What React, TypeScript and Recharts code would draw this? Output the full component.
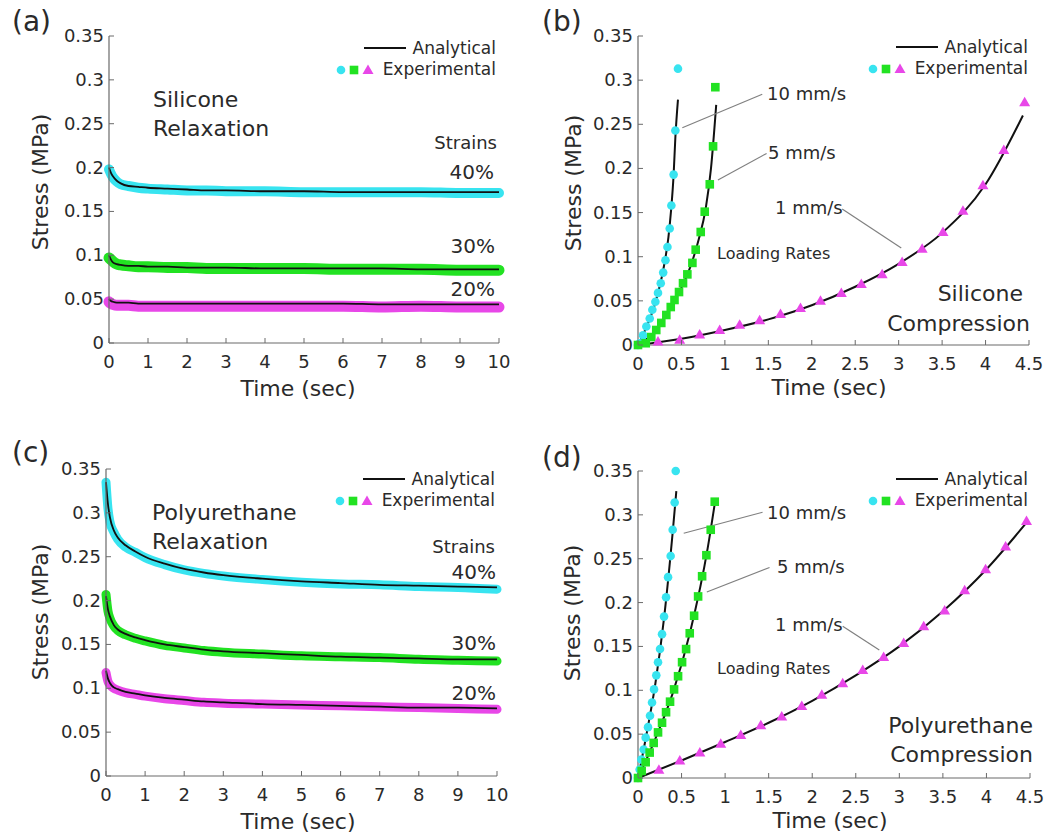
import React from 'react'
import { ComposedChart, Line, Scatter, XAxis, YAxis, ReferenceLine } from 'recharts'

const CYAN = '#38e4f0'
const GREEN = '#22e222'
const MAGENTA = '#e847e8'
const AXIS = '#6a6a6a'
const TXT = '#2a2a2a'
const FONT = '"DejaVu Sans", Verdana, sans-serif'

// shared ticks
const stressTicks = [0, 0.05, 0.1, 0.15, 0.2, 0.25, 0.3, 0.35]
const relaxTicks = [0, 1, 2, 3, 4, 5, 6, 7, 8, 9, 10]
const compTicks = [0, 0.5, 1, 1.5, 2, 2.5, 3, 3.5, 4, 4.5]

// relaxation sample times (sec)
const relaxTime = [0, 0.05, 0.1, 0.2, 0.3, 0.5, 0.75, 1, 1.5, 2, 2.5, 3, 4, 5, 6, 7, 8, 9, 10]

// (a) silicone relaxation, stress (MPa)
const silExp40 = [0.198, 0.193, 0.189, 0.184, 0.181, 0.179, 0.177, 0.176, 0.175, 0.174, 0.174, 0.173, 0.173, 0.172, 0.172, 0.172, 0.172, 0.171, 0.171]
const silAna40 = [0.2, 0.194, 0.19, 0.185, 0.182, 0.179, 0.178, 0.177, 0.176, 0.175, 0.174, 0.174, 0.173, 0.173, 0.172, 0.172, 0.172, 0.172, 0.172]
const silExp30 = [0.097, 0.095, 0.093, 0.09, 0.089, 0.088, 0.087, 0.087, 0.086, 0.086, 0.085, 0.085, 0.085, 0.085, 0.084, 0.084, 0.084, 0.083, 0.083]
const silAna30 = [0.1, 0.095, 0.092, 0.09, 0.089, 0.088, 0.088, 0.087, 0.087, 0.086, 0.086, 0.086, 0.085, 0.085, 0.085, 0.085, 0.084, 0.084, 0.084]
const silExp20 = [0.047, 0.045, 0.044, 0.043, 0.043, 0.043, 0.042, 0.042, 0.042, 0.042, 0.042, 0.042, 0.042, 0.042, 0.042, 0.041, 0.042, 0.041, 0.041]
const silAna20 = [0.05, 0.048, 0.047, 0.046, 0.046, 0.046, 0.045, 0.045, 0.045, 0.045, 0.045, 0.045, 0.045, 0.045, 0.045, 0.044, 0.044, 0.044, 0.044]

// (c) polyurethane relaxation
const puExp40 = [0.335, 0.305, 0.29, 0.278, 0.27, 0.261, 0.255, 0.249, 0.241, 0.235, 0.231, 0.228, 0.224, 0.221, 0.219, 0.218, 0.216, 0.215, 0.213]
const puAna40 = [0.335, 0.31, 0.295, 0.28, 0.272, 0.263, 0.256, 0.25, 0.242, 0.236, 0.232, 0.229, 0.225, 0.222, 0.22, 0.218, 0.217, 0.216, 0.215]
const puExp30 = [0.207, 0.188, 0.18, 0.171, 0.166, 0.161, 0.157, 0.154, 0.149, 0.146, 0.143, 0.141, 0.139, 0.137, 0.136, 0.135, 0.133, 0.132, 0.131]
const puAna30 = [0.205, 0.19, 0.182, 0.172, 0.167, 0.162, 0.158, 0.155, 0.15, 0.147, 0.144, 0.142, 0.14, 0.138, 0.136, 0.135, 0.134, 0.133, 0.133]
const puExp20 = [0.118, 0.108, 0.104, 0.1, 0.098, 0.095, 0.093, 0.091, 0.088, 0.086, 0.084, 0.083, 0.082, 0.081, 0.08, 0.079, 0.078, 0.077, 0.076]
const puAna20 = [0.12, 0.111, 0.106, 0.101, 0.099, 0.096, 0.094, 0.092, 0.089, 0.087, 0.085, 0.084, 0.082, 0.081, 0.08, 0.079, 0.078, 0.078, 0.077]

// (b) silicone compression
const silT10 = [0, 0.02, 0.058, 0.096, 0.135, 0.165, 0.2, 0.23, 0.262, 0.29, 0.316, 0.339, 0.365, 0.384, 0.41, 0.43, 0.46]
const silS10 = [0, 0.002, 0.011, 0.021, 0.03, 0.04, 0.049, 0.059, 0.07, 0.082, 0.096, 0.111, 0.132, 0.158, 0.193, 0.243, 0.313]
const silAnaT10 = [0, 0.1, 0.2, 0.3, 0.35, 0.38, 0.41, 0.43, 0.46]
const silAnaS10 = [0, 0.021, 0.048, 0.09, 0.122, 0.152, 0.193, 0.235, 0.278]
const silT5 = [0, 0.089, 0.153, 0.21, 0.268, 0.326, 0.377, 0.42, 0.472, 0.518, 0.568, 0.626, 0.664, 0.722, 0.768, 0.826, 0.864, 0.89]
const silS5 = [0, 0.002, 0.009, 0.017, 0.025, 0.034, 0.043, 0.051, 0.06, 0.07, 0.08, 0.093, 0.108, 0.128, 0.151, 0.182, 0.225, 0.292]
const silAnaT5 = [0, 0.2, 0.4, 0.5, 0.6, 0.7, 0.78, 0.84, 0.9]
const silAnaS5 = [0, 0.016, 0.047, 0.065, 0.088, 0.12, 0.155, 0.2, 0.272]
const silT1 = [0.23, 0.48, 0.71, 0.94, 1.17, 1.4, 1.64, 1.87, 2.1, 2.34, 2.57, 2.81, 3.04, 3.27, 3.51, 3.74, 3.97, 4.21, 4.45]
const silS1 = [0.004, 0.006, 0.012, 0.017, 0.023, 0.028, 0.035, 0.042, 0.05, 0.059, 0.069, 0.08, 0.094, 0.109, 0.128, 0.152, 0.181, 0.221, 0.275]
const silAnaT1 = [0, 0.5, 1, 1.5, 2, 2.5, 3, 3.5, 4, 4.43]
const silAnaS1 = [0, 0.007, 0.017, 0.029, 0.045, 0.066, 0.092, 0.127, 0.182, 0.26]

// (d) polyurethane compression
const puT10 = [0, 0.019, 0.038, 0.065, 0.088, 0.115, 0.138, 0.161, 0.184, 0.21, 0.23, 0.253, 0.276, 0.299, 0.322, 0.345, 0.375, 0.398, 0.421, 0.433]
const puS10 = [0, 0.0096, 0.021, 0.0325, 0.046, 0.058, 0.071, 0.086, 0.101, 0.117, 0.132, 0.147, 0.164, 0.184, 0.206, 0.229, 0.253, 0.283, 0.314, 0.35]
const puAnaT10 = [0, 0.1, 0.2, 0.3, 0.4, 0.44]
const puAnaS10 = [0, 0.051, 0.108, 0.183, 0.282, 0.327]
const puT5 = [0, 0.042, 0.088, 0.134, 0.18, 0.23, 0.276, 0.322, 0.368, 0.414, 0.46, 0.506, 0.552, 0.594, 0.644, 0.69, 0.736, 0.785, 0.835, 0.881]
const puS5 = [0, 0.008, 0.018, 0.029, 0.04, 0.052, 0.063, 0.075, 0.087, 0.101, 0.116, 0.132, 0.147, 0.165, 0.185, 0.207, 0.23, 0.254, 0.283, 0.315]
const puAnaT5 = [0, 0.2, 0.4, 0.6, 0.8, 0.88]
const puAnaS5 = [0, 0.045, 0.097, 0.167, 0.262, 0.312]
const puT1 = [0.24, 0.48, 0.71, 0.95, 1.18, 1.41, 1.65, 1.88, 2.11, 2.35, 2.58, 2.82, 3.05, 3.28, 3.52, 3.75, 3.99, 4.22, 4.46]
const puS1 = [0.0095, 0.02, 0.029, 0.039, 0.049, 0.06, 0.07, 0.082, 0.095, 0.108, 0.123, 0.138, 0.154, 0.173, 0.191, 0.214, 0.238, 0.264, 0.293]
const puAnaT1 = [0, 0.5, 1, 1.5, 2, 2.5, 3, 3.5, 4, 4.45]
const puAnaS1 = [0, 0.02, 0.041, 0.063, 0.088, 0.117, 0.15, 0.19, 0.238, 0.29]

const pts = (ts: number[], ss: number[]) => ts.map((t, i) => ({ t, s: ss[i] }))

// ticks point inward (matlab style), labels outside
const XTick = (p: any) => (
  <g>
    <line x1={p.x} x2={p.x} y1={p.y} y2={p.y - 5} stroke={AXIS} />
    <text x={p.x} y={p.y + 25} textAnchor="middle" fontSize={18} fill={TXT} fontFamily={FONT}>
      {p.payload.value}
    </text>
  </g>
)

const YTick = (p: any) => (
  <g>
    <line x1={p.x} x2={p.x + 5} y1={p.y} y2={p.y} stroke={AXIS} />
    <text x={p.x - 5} y={p.y + 6} textAnchor="end" fontSize={18} fill={TXT} fontFamily={FONT}>
      {p.payload.value}
    </text>
  </g>
)

const Dot = (p: any) => <circle cx={p.cx} cy={p.cy} r={4.3} fill={CYAN} />
const Sq = (p: any) => <rect x={p.cx - 4.3} y={p.cy - 4.3} width={8.6} height={8.6} fill={GREEN} />
const Tri = (p: any) => (
  <polygon points={`${p.cx},${p.cy - 5.5} ${p.cx + 5.5},${p.cy + 4} ${p.cx - 5.5},${p.cy + 4}`} fill={MAGENTA} />
)

function Panel({ left, top, margin, xMax, xTicks, children }: any) {
  return (
    <div style={{ position: 'absolute', left, top }}>
      <ComposedChart width={530} height={418} margin={margin}>
        <XAxis
          type="number"
          dataKey="t"
          domain={[0, xMax]}
          ticks={xTicks}
          interval={0}
          height={1}
          tickSize={0}
          tickMargin={0}
          tickLine={false}
          axisLine={{ stroke: AXIS, strokeWidth: 1.2 }}
          tick={(p: any) => <XTick {...p} />}
        />
        <YAxis
          type="number"
          dataKey="s"
          domain={[0, 0.35]}
          ticks={stressTicks}
          interval={0}
          width={1}
          tickSize={0}
          tickMargin={0}
          tickLine={false}
          axisLine={{ stroke: AXIS, strokeWidth: 1.2 }}
          tick={(p: any) => <YTick {...p} />}
        />
        {children}
      </ComposedChart>
    </div>
  )
}

const band = (ys: number[], color: string, w: number) => (
  <Line data={pts(relaxTime, ys)} dataKey="s" type="monotone" stroke={color} strokeWidth={w} strokeLinecap="round" dot={false} isAnimationActive={false} />
)
const ana = (ts: number[], ys: number[], w = 1.8) => (
  <Line data={pts(ts, ys)} dataKey="s" type="monotone" stroke="#111" strokeWidth={w} dot={false} isAnimationActive={false} />
)
const marks = (ts: number[], ys: number[], shape: any) => (
  <Scatter data={pts(ts, ys)} shape={shape} isAnimationActive={false} />
)
const leader = (x1: number, y1: number, x2: number, y2: number) => (
  <ReferenceLine segment={[{ x: x1, y: y1 }, { x: x2, y: y2 }]} stroke="#808080" strokeWidth={1.2} />
)

const Txt = ({ x, y, size = 18, anchor = 'start', children }: any) => (
  <text x={x} y={y} fontSize={size} textAnchor={anchor} fill={TXT} fontFamily={FONT}>
    {children}
  </text>
)

function Legend({ right, y }: any) {
  return (
    <g>
      <line x1={right - 132} x2={right - 90} y1={y - 6} y2={y - 6} stroke="#111" strokeWidth={2.2} />
      <Txt x={right} y={y} size={17} anchor="end">Analytical</Txt>
      <Dot cx={right - 155} cy={y + 16} />
      <Sq cx={right - 142} cy={y + 16} />
      <Tri cx={right - 128} cy={y + 16} />
      <Txt x={right} y={y + 21} size={17} anchor="end">Experimental</Txt>
    </g>
  )
}

const YLabel = ({ x, y }: any) => (
  <text x={x} y={y} transform={`rotate(-90 ${x} ${y})`} fontSize={22} textAnchor="middle" dominantBaseline="central" fill={TXT} fontFamily={FONT}>
    Stress (MPa)
  </text>
)

export default function App() {
  return (
    <div style={{ position: 'absolute', left: 0, top: 0, width: 1060, height: 836, background: '#fff' }}>
      <Panel left={0} top={0} margin={{ top: 36, left: 108, right: 31, bottom: 74 }} xMax={10} xTicks={relaxTicks}>
        {band(silExp40, CYAN, 10)}
        {band(silExp30, GREEN, 11)}
        {band(silExp20, MAGENTA, 11)}
        {ana(relaxTime, silAna40)}
        {ana(relaxTime, silAna30)}
        {ana(relaxTime, silAna20)}
      </Panel>
      <Panel left={530} top={0} margin={{ top: 36, left: 107, right: 31, bottom: 72 }} xMax={4.5} xTicks={compTicks}>
        {marks(silT10, silS10, Dot)}
        {marks(silT5, silS5, Sq)}
        {marks(silT1, silS1, Tri)}
        {ana(silAnaT10, silAnaS10, 2)}
        {ana(silAnaT5, silAnaS5, 2)}
        {ana(silAnaT1, silAnaS1, 2)}
        {leader(0.51, 0.246, 1.43, 0.284)}
        {leader(0.92, 0.187, 1.48, 0.217)}
        {leader(2.35, 0.154, 3.03, 0.11)}
      </Panel>
      <Panel left={0} top={418} margin={{ top: 51, left: 105, right: 33, bottom: 59 }} xMax={10} xTicks={relaxTicks}>
        {band(puExp40, CYAN, 9)}
        {band(puExp30, GREEN, 9)}
        {band(puExp20, MAGENTA, 9)}
        {ana(relaxTime, puAna40)}
        {ana(relaxTime, puAna30)}
        {ana(relaxTime, puAna20)}
      </Panel>
      <Panel left={530} top={418} margin={{ top: 53, left: 107, right: 30, bottom: 57 }} xMax={4.5} xTicks={compTicks}>
        {marks(puT10, puS10, Dot)}
        {marks(puT5, puS5, Sq)}
        {marks(puT1, puS1, Tri)}
        {ana(puAnaT10, puAnaS10, 2)}
        {ana(puAnaT5, puAnaS5, 2)}
        {ana(puAnaT1, puAnaS1, 2)}
        {leader(0.525, 0.279, 1.43, 0.303)}
        {leader(0.79, 0.212, 1.51, 0.24)}
        {leader(2.35, 0.173, 2.77, 0.146)}
      </Panel>

      <svg width={1060} height={836} style={{ position: 'absolute', left: 0, top: 0, pointerEvents: 'none' }}>
        {/* panel letters */}
        <Txt x={12} y={31} size={28}>(a)</Txt>
        <Txt x={542} y={31} size={28}>(b)</Txt>
        <Txt x={12} y={462} size={28}>(c)</Txt>
        <Txt x={542} y={467} size={28}>(d)</Txt>

        {/* axis titles */}
        <Txt x={298} y={396} size={22} anchor="middle">Time (sec)</Txt>
        <Txt x={829} y={395} size={22} anchor="middle">Time (sec)</Txt>
        <Txt x={298} y={829} size={22} anchor="middle">Time (sec)</Txt>
        <Txt x={830} y={828} size={22} anchor="middle">Time (sec)</Txt>
        <YLabel x={40} y={182} />
        <YLabel x={573} y={183} />
        <YLabel x={40} y={612} />
        <YLabel x={572} y={613} />

        {/* legends */}
        <Legend right={496} y={54} />
        <Legend right={1028} y={53} />
        <Legend right={495} y={485} />
        <Legend right={1028} y={485} />

        {/* (a) */}
        <Txt x={153} y={107} size={22}>Silicone</Txt>
        <Txt x={153} y={136} size={22}>Relaxation</Txt>
        <Txt x={497} y={149} anchor="end">Strains</Txt>
        <Txt x={494} y={179} size={20} anchor="end">40%</Txt>
        <Txt x={495} y={253} size={20} anchor="end">30%</Txt>
        <Txt x={495} y={296} size={20} anchor="end">20%</Txt>

        {/* (b) */}
        <Txt x={767} y={100}>10 mm/s</Txt>
        <Txt x={768} y={159}>5 mm/s</Txt>
        <Txt x={775} y={214}>1 mm/s</Txt>
        <Txt x={717} y={259} size={16}>Loading Rates</Txt>
        <Txt x={1023} y={301} size={22} anchor="end">Silicone</Txt>
        <Txt x={1030} y={331} size={22} anchor="end">Compression</Txt>

        {/* (c) */}
        <Txt x={152} y={520} size={22}>Polyurethane</Txt>
        <Txt x={152} y={549} size={22}>Relaxation</Txt>
        <Txt x={495} y={553} anchor="end">Strains</Txt>
        <Txt x={496} y={579} size={20} anchor="end">40%</Txt>
        <Txt x={496} y={650} size={20} anchor="end">30%</Txt>
        <Txt x={496} y={700} size={20} anchor="end">20%</Txt>

        {/* (d) */}
        <Txt x={767} y={519}>10 mm/s</Txt>
        <Txt x={777} y={573}>5 mm/s</Txt>
        <Txt x={775} y={631}>1 mm/s</Txt>
        <Txt x={717} y={674} size={16}>Loading Rates</Txt>
        <Txt x={1033} y={733} size={22} anchor="end">Polyurethane</Txt>
        <Txt x={1033} y={762} size={22} anchor="end">Compression</Txt>
      </svg>
    </div>
  )
}
